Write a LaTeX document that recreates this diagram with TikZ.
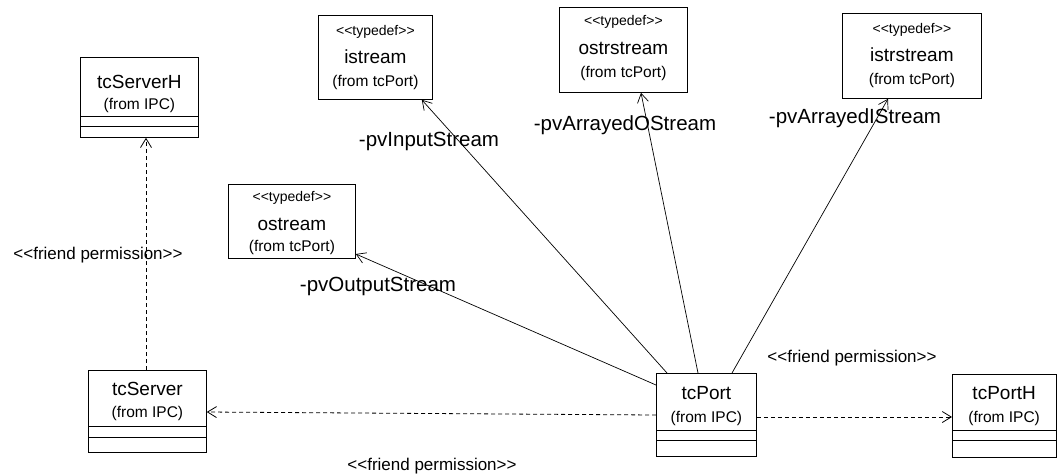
\documentclass[tikz,border=0pt]{standalone}
\usepackage{fontspec}
\setmainfont{Liberation Sans}[Ligatures=TeXOff]
\usetikzlibrary{arrows.meta,calc}
\tikzset{
  cbox/.style={draw, line width=0.8pt, inner sep=0pt, anchor=north west},
  cname/.style={inner sep=0pt, font=\fontsize{19}{21}\selectfont},
  cfrom/.style={inner sep=0pt, font=\fontsize{15.5}{17}\selectfont},
  cstereo/.style={inner sep=0pt, font=\fontsize{14}{16}\selectfont},
  rolelbl/.style={inner sep=0pt, font=\fontsize{20.5}{22}\selectfont},
  friendlbl/.style={inner sep=0pt, font=\fontsize{17}{19}\selectfont},
  comp/.style={line width=0.8pt},
  assoc/.style={line width=0.7pt, -{Straight Barb[length=9pt,width=11pt]}},
  dep/.style={line width=0.8pt, dash pattern=on 4pt off 3pt, -{Straight Barb[length=9pt,width=11pt]}}
}
\begin{document}
\begin{tikzpicture}[x=1pt,y=-1pt]
\useasboundingbox (0,0) rectangle (1057,475);

% ---------- class boxes ----------
\node[cbox, minimum width=118pt, minimum height=80pt] (tcServerH) at (80,57) {};
\node[cname] (tcServerHn) at ($(tcServerH.north)+(0,25)$) {tcServerH};
\node[cfrom] (tcServerHf) at ($(tcServerH.north)+(0,48)$) {(from IPC)};
\draw[comp] ($(tcServerH.north west)+(0,59)$) -- ($(tcServerH.north east)+(0,59)$);
\draw[comp] ($(tcServerH.north west)+(0,69)$) -- ($(tcServerH.north east)+(0,69)$);

\node[cbox, minimum width=118pt, minimum height=82pt] (tcServer) at (88,370) {};
\node[cname] (tcServern) at ($(tcServer.north)+(0,19)$) {tcServer};
\node[cfrom] (tcServerf) at ($(tcServer.north)+(0,43)$) {(from IPC)};
\draw[comp] ($(tcServer.north west)+(0,56)$) -- ($(tcServer.north east)+(0,56)$);
\draw[comp] ($(tcServer.north west)+(0,67)$) -- ($(tcServer.north east)+(0,67)$);

\node[cbox, minimum width=100pt, minimum height=83pt] (tcPort) at (656,373) {};
\node[cname] (tcPortn) at ($(tcPort.north)+(0,20)$) {tcPort};
\node[cfrom] (tcPortf) at ($(tcPort.north)+(0,45)$) {(from IPC)};
\draw[comp] ($(tcPort.north west)+(0,57)$) -- ($(tcPort.north east)+(0,57)$);
\draw[comp] ($(tcPort.north west)+(0,67)$) -- ($(tcPort.north east)+(0,67)$);

\node[cbox, minimum width=103.5pt, minimum height=83pt] (tcPortH) at (952,374) {};
\node[cname] (tcPortHn) at ($(tcPortH.north)+(0,19)$) {tcPortH};
\node[cfrom] (tcPortHf) at ($(tcPortH.north)+(0,44)$) {(from IPC)};
\draw[comp] ($(tcPortH.north west)+(0,56)$) -- ($(tcPortH.north east)+(0,56)$);
\draw[comp] ($(tcPortH.north west)+(0,66)$) -- ($(tcPortH.north east)+(0,66)$);

% ---------- typedef boxes ----------
\node[cbox, minimum width=114pt, minimum height=84pt] (istream) at (318,15) {};
\node[cstereo] (istreams) at ($(istream.north)+(0,17)$) {<<typedef>>};
\node[cname] (istreamn) at ($(istream.north)+(0,42)$) {istream};
\node[cfrom] (istreamf) at ($(istream.north)+(0,67)$) {(from tcPort)};

\node[cbox, minimum width=128pt, minimum height=85pt] (ostrstream) at (559,7) {};
\node[cstereo] (ostrstreams) at ($(ostrstream.north)+(0,15)$) {<<typedef>>};
\node[cname] (ostrstreamn) at ($(ostrstream.north)+(0,41)$) {ostrstream};
\node[cfrom] (ostrstreamf) at ($(ostrstream.north)+(0,66)$) {(from tcPort)};

\node[cbox, minimum width=139pt, minimum height=85pt] (istrstream) at (842,13) {};
\node[cstereo] (istrstreams) at ($(istrstream.north)+(0,17)$) {<<typedef>>};
\node[cname] (istrstreamn) at ($(istrstream.north)+(0,42)$) {istrstream};
\node[cfrom] (istrstreamf) at ($(istrstream.north)+(0,67)$) {(from tcPort)};

\node[cbox, minimum width=127pt, minimum height=74pt] (ostream) at (228,184) {};
\node[cstereo] (ostreams) at ($(ostream.north)+(0,14)$) {<<typedef>>};
\node[cname] (ostreamn) at ($(ostream.north)+(0,40)$) {ostream};
\node[cfrom] (ostreamf) at ($(ostream.north)+(0,63)$) {(from tcPort)};

% ---------- associations ----------
\draw[assoc] ($(tcPort.north west)+(11,0)$) -- ($(istream.south east)+(-11,0)$);
\draw[assoc] ($(tcPort.north west)+(42,0)$) -- ($(ostrstream.south west)+(82,0)$);
\draw[assoc] ($(tcPort.north west)+(76,0)$) -- ($(istrstream.south west)+(46,0)$);
\draw[assoc] ($(tcPort.north west)+(0,12)$) -- ($(ostream.north east)+(0,70)$);

% ---------- dependencies ----------
\draw[dep] ($(tcServer.north west)+(58,0)$) -- ($(tcServerH.south west)+(66,0)$);
\draw[dep] ($(tcPort.north west)+(0,42)$) -- ($(tcServer.north east)+(0,42)$);
\draw[dep] ($(tcPort.north east)+(0,44)$) -- ($(tcPortH.north west)+(0,43)$);

% ---------- labels ----------
\node[rolelbl] (lblIn) at (429,141) {-pvInputStream};
\node[rolelbl] (lblAO) at (625,125) {-pvArrayedOStream};
\node[rolelbl] (lblAI) at (855,118) {-pvArrayedIStream};
\node[rolelbl] (lblOut) at (378,286) {-pvOutputStream};
\node[friendlbl] (fpLeft) at (98,255) {<<friend permission>>};
\node[friendlbl] (fpRight) at (852,358) {<<friend permission>>};
\node[friendlbl] (fpBottom) at (432,466) {<<friend permission>>};
\end{tikzpicture}
\end{document}
